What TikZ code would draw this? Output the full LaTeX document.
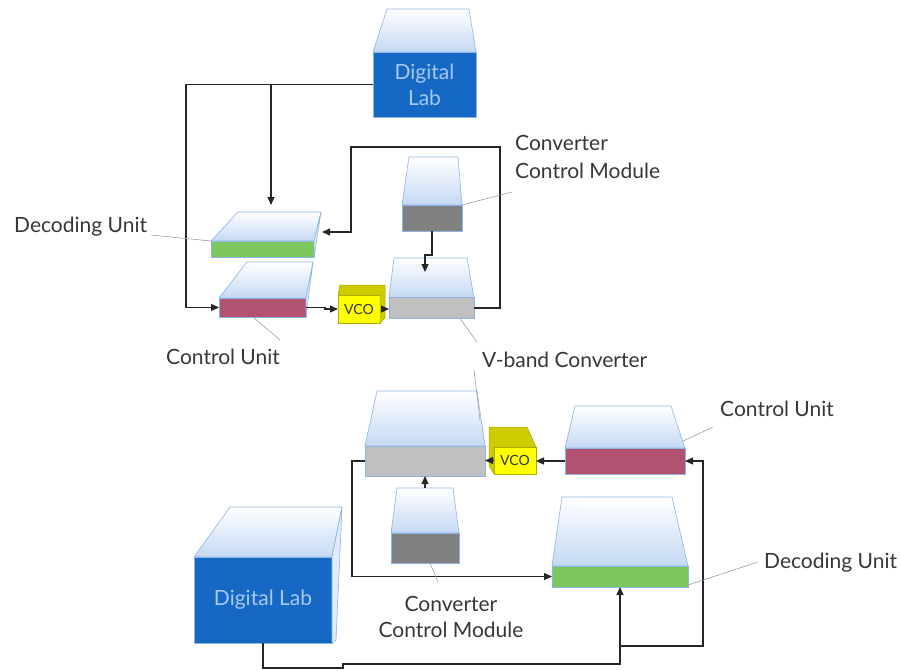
\documentclass[tikz,border=0pt]{standalone}
\usepackage{fontspec}
\setmainfont{Lato}
\usetikzlibrary{arrows.meta}
\definecolor{tfblue}{RGB}{196,217,244}
\definecolor{edgeblue}{RGB}{141,180,226}
\definecolor{dlblue}{RGB}{21,104,196}
\definecolor{dltext}{RGB}{165,200,240}
\definecolor{dugreen}{RGB}{124,200,92}
\definecolor{cumag}{RGB}{178,82,112}
\definecolor{vbgray}{RGB}{192,192,192}
\definecolor{ccmgray}{RGB}{128,128,128}
\definecolor{vcoyel}{RGB}{255,255,0}
\definecolor{vcoolive}{RGB}{204,204,0}
\definecolor{txt}{RGB}{55,55,55}
\begin{document}
\begin{tikzpicture}[x=1pt,y=-1pt,
  front/.style={draw=edgeblue, line width=0.6pt, inner sep=0pt, outer sep=0pt},
  tf/.style={draw=edgeblue, line width=0.6pt, top color=white, bottom color=tfblue},
  sideface/.style={draw=edgeblue, line width=0.6pt, fill=tfblue!50!white},
  olive/.style={draw=vcoolive!85!black, line width=0.5pt, fill=vcoolive},
  conn/.style={draw=black!85, line width=1.2pt, -{Triangle[length=8pt,width=7pt]}},
  leader/.style={draw=gray!75, line width=0.6pt},
  lbl/.style={font=\fontsize{21}{26}\selectfont, text=txt, inner sep=0pt},
  dltxt/.style={font=\fontsize{21}{26}\selectfont, text=dltext, align=center},
  vcotxt/.style={font=\fontsize{14}{16}\selectfont, text=txt},
]
\useasboundingbox (0,0) rectangle (900,670);

% ---------------- top diagram ----------------
\node[front, fill=dlblue, minimum width=103pt, minimum height=65pt, dltxt] (DL1) at (424.5,84.5) {Digital\\Lab};
\path[tf] (DL1.north west) -- (387,9) -- (469,9) -- (DL1.north east) -- cycle;

\node[front, fill=dugreen, minimum width=103pt, minimum height=16pt] (DU1) at (262.5,249) {};
\path[tf] (DU1.north west) -- (238,212) -- (321,212) -- (DU1.north east) -- cycle;
\path[sideface] (DU1.north east) -- (321,212) -- (DU1.south east) -- cycle;

\node[front, fill=cumag, minimum width=87pt, minimum height=19pt] (CU1) at (262.5,307.5) {};
\path[tf] (CU1.north west) -- (247,262) -- (313,262) -- (CU1.north east) -- cycle;
\path[sideface] (CU1.north east) -- (313,262) -- (CU1.south east) -- cycle;

\node[front, draw=vcoolive!85!black, fill=vcoyel, minimum width=42pt, minimum height=28pt, vcotxt] (VCO1) at (359,309) {VCO};
\path[olive] (VCO1.north west) -- (340,285) -- (385,285) -- (385,318) -- (VCO1.south east) -- (VCO1.north east) -- cycle;

\node[front, fill=vbgray, minimum width=85pt, minimum height=21pt] (VB1) at (431.5,308) {};
\path[tf] (VB1.north west) -- (394,258) -- (467,258) -- (VB1.north east) -- cycle;

\node[front, fill=ccmgray, minimum width=60pt, minimum height=26pt] (CCM1) at (432,218) {};
\path[tf] (CCM1.north west) -- (409,157) -- (458,157) -- (CCM1.north east) -- cycle;

% connectors (top)
\coordinate (j1) at (186,84.5);
\coordinate (j2) at (271,84.5);
\coordinate (du1top) at (271,205);
\coordinate (k1) at (325,307.5);
\coordinate (k2) at (432,255);
\coordinate (vb1top) at (425,272);
\coordinate (l1) at (500,147);
\coordinate (l2) at (351,147);
\coordinate (du1side) at (322,232);
\draw[conn] (DL1.west) -- (j1) |- (CU1.west);
\draw[conn] (j2) -- (du1top);
\draw[conn] (CU1.east) -- (k1) |- (VCO1.west);
\draw[conn] ([xshift=5pt]VCO1.east) -- (VCO1.east -| VB1.west);
\draw[conn] (CCM1.south) -- (k2) -| (vb1top);
\draw[conn] (VB1.east) -| (l1) -- (l2) |- (du1side);

% labels (top)
\node[lbl, anchor=base west] (ldu1) at (14,232) {Decoding Unit};
\node[lbl, anchor=base west] (lcu1) at (166,364) {Control Unit};
\node[lbl, anchor=base west] (lvb) at (482,367) {V-band Converter};
\node[lbl, anchor=base west] (lccm1a) at (515,150) {Converter};
\node[lbl, anchor=base west] (lccm1b) at (515,178) {Control Module};
\coordinate (q1) at (512,192);
\coordinate (q2) at (280,340);
\coordinate (q3) at (477,342);
\coordinate (q4) at (474,370);
\draw[leader] ([shift={(4,3)}]ldu1.base east) -- (DU1.north west);
\draw[leader] ([xshift=-9.5pt]CU1.south) -- (q2);
\draw[leader] ([xshift=28.5pt]VB1.south) -- (q3);
\draw[leader] (CCM1.north east) -- (q1);

% ---------------- bottom diagram ----------------
\node[front, fill=vbgray, minimum width=120pt, minimum height=30pt] (VB2) at (425,461) {};
\path[tf] (VB2.north west) -- (377,391) -- (477,391) -- (VB2.north east) -- cycle;

\node[front, draw=vcoolive!85!black, fill=vcoyel, minimum width=42pt, minimum height=27pt, vcotxt] (VCO2) at (515,460.5) {VCO};
\path[olive] (VCO2.south west) -- (489,466) -- (489,427) -- (527,427) -- (VCO2.north east) -- (VCO2.north west) -- cycle;

\node[front, fill=cumag, minimum width=120pt, minimum height=26pt] (CU2) at (625,461) {};
\path[tf] (CU2.north west) -- (575,406) -- (671,406) -- (CU2.north east) -- cycle;

\node[front, fill=dugreen, minimum width=136pt, minimum height=21pt] (DU2) at (620,576.5) {};
\path[tf] (DU2.north west) -- (562,497) -- (672,497) -- (DU2.north east) -- cycle;

\node[front, fill=ccmgray, minimum width=68pt, minimum height=30pt] (CCM2) at (425,548) {};
\path[tf] (CCM2.north west) -- (397,488) -- (453,488) -- (CCM2.north east) -- cycle;

\node[front, fill=dlblue, minimum width=138pt, minimum height=86pt, dltxt] (DL2) at (263,600) {Digital Lab};
\path[tf] (DL2.north west) -- (230,507) -- (342,507) -- (DL2.north east) -- cycle;
\path[sideface] (DL2.north east) -- (342,507) -- (336,640) -- (DL2.south east) -- cycle;

% connectors (bottom)
\coordinate (m1) at (352,461);
\coordinate (ccm2top) at (425,488);
\coordinate (n1) at (263,668);
\coordinate (n2) at (343,668);
\coordinate (n3) at (343,664);
\coordinate (n4) at (620,664);
\coordinate (p1) at (620,646);
\coordinate (p2) at (703,646);
\draw[conn] (VCO2.west) -- (VCO2.west -| VB2.east);
\draw[conn] (CU2.west) -- (CU2.west -| VCO2.east);
\draw[conn] (VB2.west) -- (m1) |- (DU2.west);
\draw[conn] (ccm2top) -- (VB2.south);
\draw[conn] (DL2.south) -- (n1) -- (n2) -- (n3) -- (n4) -- (DU2.south);
\draw[conn] (p1) -- (p2) |- (CU2.east);

% labels (bottom)
\node[lbl, anchor=base west] (lcu2) at (720,416) {Control Unit};
\node[lbl, anchor=base west] (ldu2) at (764,568) {Decoding Unit};
\node[lbl, anchor=base] (lccm2a) at (451,611) {Converter};
\node[lbl, anchor=base] (lccm2b) at (451,637) {Control Module};
\coordinate (r1) at (713,427);
\coordinate (r2) at (758,562);
\coordinate (r3) at (438,582);
\coordinate (r4) at (480,420);
\coordinate (cu2edge) at (683,441);
\draw[leader] (q4) -- (r4);
\draw[leader] (cu2edge) -- (r1);
\draw[leader] ([yshift=-8.5pt]DU2.east) -- (r2);
\draw[leader] ([xshift=5pt]CCM2.south) -- (r3);
\end{tikzpicture}
\end{document}
